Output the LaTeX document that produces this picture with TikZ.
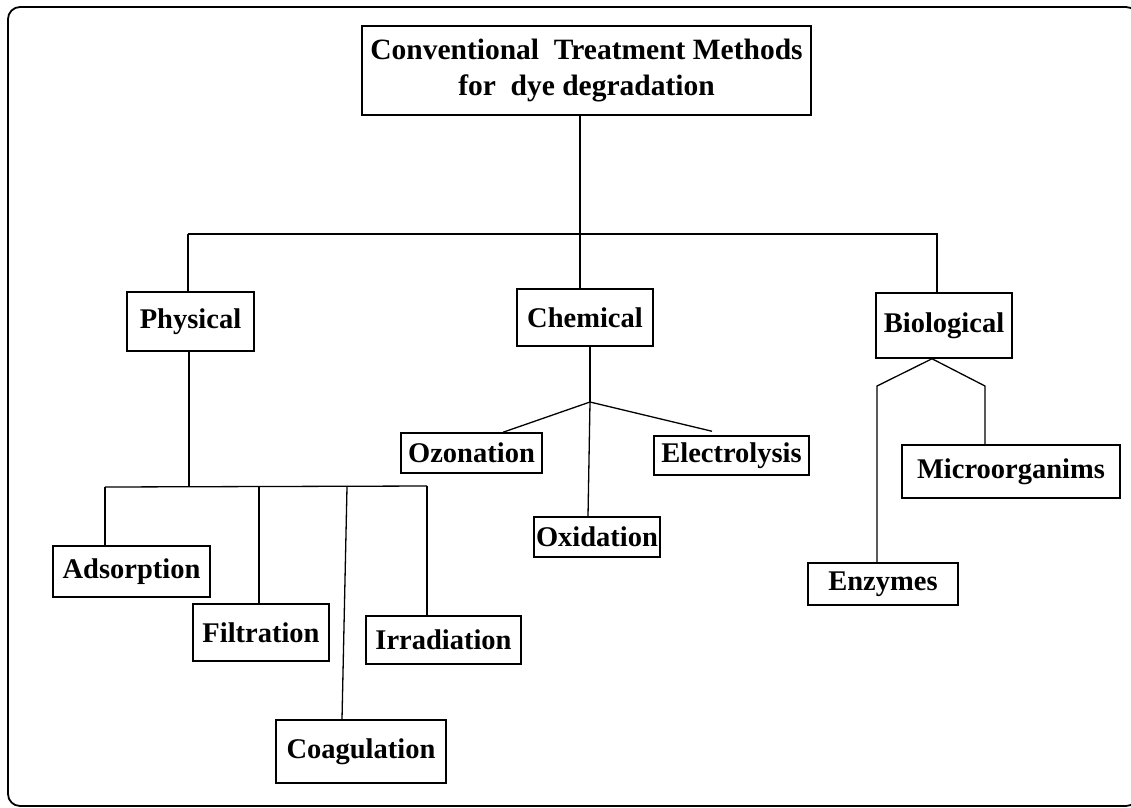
\documentclass[tikz,border=0pt]{standalone}
\usepackage{fontspec}
\setmainfont{Liberation Serif}
\usetikzlibrary{calc}

\begin{document}
\begin{tikzpicture}[x=1pt, y=-1pt,
  box/.style={draw, line width=1.5pt, inner sep=0pt,
    font=\fontsize{28.5}{36}\selectfont\bfseries},
  link/.style={line width=1.3pt}]
  \useasboundingbox (0,0) rectangle (1131,807);

  % outer frame, cut off by the page on the right
  \draw[line width=1.8pt, rounded corners=12pt] (8,7) rectangle (1138,806);

  % top box
  \node[box, minimum width=449pt, minimum height=89pt, align=center,
    font=\fontsize{29.5}{36}\selectfont\bfseries] (title) at (586.5,70.5)
    {Conventional\ \ Treatment Methods\\for\ \ dye degradation};

  % three main groups
  \node[box, minimum width=127pt, minimum height=59pt] (physical) at (190.5,321.5) {Physical};
  \node[box, minimum width=136pt, minimum height=57pt] (chemical) at (585,317.5) {Chemical};
  \node[box, minimum width=136pt, minimum height=65pt] (biological) at (944,325.5) {Biological};

  % physical methods
  \node[box, minimum width=157pt, minimum height=51pt] (adsorption) at (131.5,571.5) {Adsorption};
  \node[box, minimum width=136pt, minimum height=57pt] (filtration) at (261,632.5) {Filtration};
  \node[box, minimum width=155pt, minimum height=48pt] (irradiation) at (443.5,640) {Irradiation};
  \node[box, minimum width=170pt, minimum height=63pt] (coagulation) at (361,751.5) {Coagulation};

  % chemical methods
  \node[box, minimum width=141pt, minimum height=40pt] (ozonation) at (471.5,453) {Ozonation};
  \node[box, minimum width=155pt, minimum height=39pt] (electrolysis) at (731.5,455.5) {Electrolysis};
  \node[box, minimum width=126pt, minimum height=40pt] (oxidation) at (597,537) {Oxidation};

  % biological methods
  \node[box, minimum width=218pt, minimum height=53pt] (microorganims) at (1011,471.5) {Microorganims};
  \node[box, minimum width=150pt, minimum height=42pt] (enzymes) at (883,584) {Enzymes};

  % main bus
  \coordinate (bus) at (580,234);
  \coordinate (busL) at (188,234);
  \coordinate (busR) at (937,234);
  \draw[link] (title.south -| bus) -- (chemical.north -| bus);
  \draw[link] (busL) -- (busR) -- (busR |- biological.north);
  \draw[link] (busL) -- (busL |- physical.north);

  % physical branch
  \coordinate (physbus) at (189,487);
  \coordinate (dropA) at (105,487);
  \coordinate (dropF) at (259,487);
  \coordinate (dropC) at (347,487);
  \coordinate (dropI) at (427,486);
  \draw[link] (physical.south -| physbus) -- (physbus);
  \draw[link] (dropA) -- (dropI);
  \draw[link] (dropA) -- (dropA |- adsorption.north);
  \draw[link] (dropF) -- (dropF |- filtration.north);
  \draw[link] (dropC) -- ([xshift=-19pt]coagulation.north);
  \draw[link] (dropI) -- (dropI |- irradiation.north);

  % chemical branch
  \coordinate (chemhub) at (590,402);
  \draw[link] (chemical.south -| chemhub) -- (chemhub);
  \draw[link] (chemhub) -- ([xshift=31.5pt]ozonation.north);
  \draw[link] (chemhub) -- ([xshift=-19.5pt,yshift=4pt]electrolysis.north);
  \draw[link] (chemhub) -- ([xshift=-9pt]oxidation.north);

  % biological branch
  \coordinate (bioL) at (877,386);
  \coordinate (bioR) at (985,386);
  \draw[link] ([xshift=-12pt]biological.south) -- (bioL) -- (bioL |- enzymes.north);
  \draw[link] ([xshift=-12pt]biological.south) -- (bioR) -- (bioR |- microorganims.north);
\end{tikzpicture}
\end{document}
